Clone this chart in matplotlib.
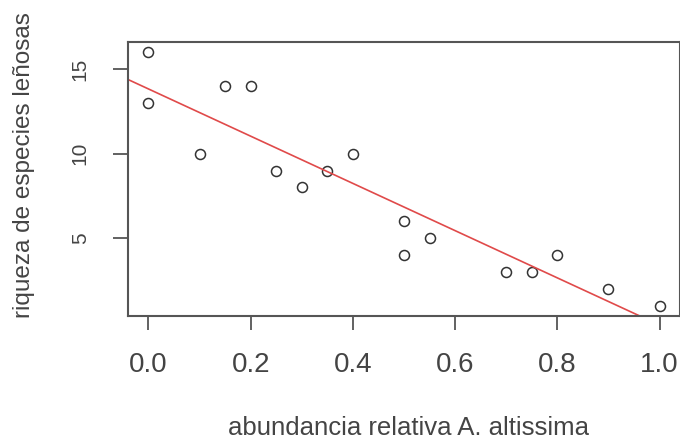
import numpy as np
import matplotlib
matplotlib.use("Agg")
import matplotlib.pyplot as plt

# --- datos ---
abundancia = [0.0, 0.0, 0.10, 0.15, 0.20, 0.25, 0.30, 0.35, 0.40,
              0.50, 0.50, 0.55, 0.70, 0.75, 0.80, 0.90, 1.0]
riqueza = [16, 13, 10, 14, 14, 9, 8, 9, 10,
           6, 4, 5, 3, 3, 4, 2, 1]
xticks = [0.0, 0.2, 0.4, 0.6, 0.8, 1.0]
xtick_labels = ["0.0", "0.2", "0.4", "0.6", "0.8", "1.0"]
yticks = [5, 10, 15]
ytick_labels = ["5", "10", "15"]

plt.rcParams['font.family'] = ['Liberation Sans', 'DejaVu Sans']

TXT = '#444444'
BOX = '#555555'

fig = plt.figure(figsize=(6.8, 4.41), dpi=100)
ax = fig.add_axes([0.1882, 0.2834, 0.8118, 0.6214])

# puntos (pch = 1 de R)
ax.plot(abundancia, riqueza, linestyle='none', marker='o', markersize=7.2,
        markerfacecolor='none', markeredgecolor='#333333', markeredgewidth=1.1)

# recta de regresion (abline(lm(...)))
pendiente, intercepto = np.polyfit(abundancia, riqueza, 1)
xr = np.array([-0.1, 1.1])
ax.plot(xr, intercepto + pendiente * xr, color='#e04a4a', linewidth=1.2)

# limites como R (4% extra)
x0, x1 = min(abundancia), max(abundancia)
y0, y1 = min(riqueza), max(riqueza)
ax.set_xlim(x0 - 0.04 * (x1 - x0), x1 + 0.04 * (x1 - x0))
ax.set_ylim(y0 - 0.04 * (y1 - y0), y1 + 0.04 * (y1 - y0))

ax.set_xticks(xticks)
ax.set_xticklabels(xtick_labels, fontsize=20, color=TXT)
ax.set_yticks(yticks)
ax.set_yticklabels(ytick_labels, fontsize=15, color=TXT, rotation=90, va='center')

ax.tick_params(axis='x', length=10, width=1.3, color=BOX, pad=16)
ax.tick_params(axis='y', length=10.5, width=1.3, color=BOX, pad=17)

for s in ax.spines.values():
    s.set_color(BOX)
    s.set_linewidth(1.5)

fig.text(409 / 680, 1 - 428 / 441, "abundancia relativa A. altissima",
         fontsize=18.5, color=TXT, ha='center', va='center')
fig.text(24 / 680, 1 - 165 / 441, "riqueza de especies leñosas",
         fontsize=17.5, color=TXT, ha='center', va='center', rotation=90)

plt.savefig("out.png", dpi=100)
